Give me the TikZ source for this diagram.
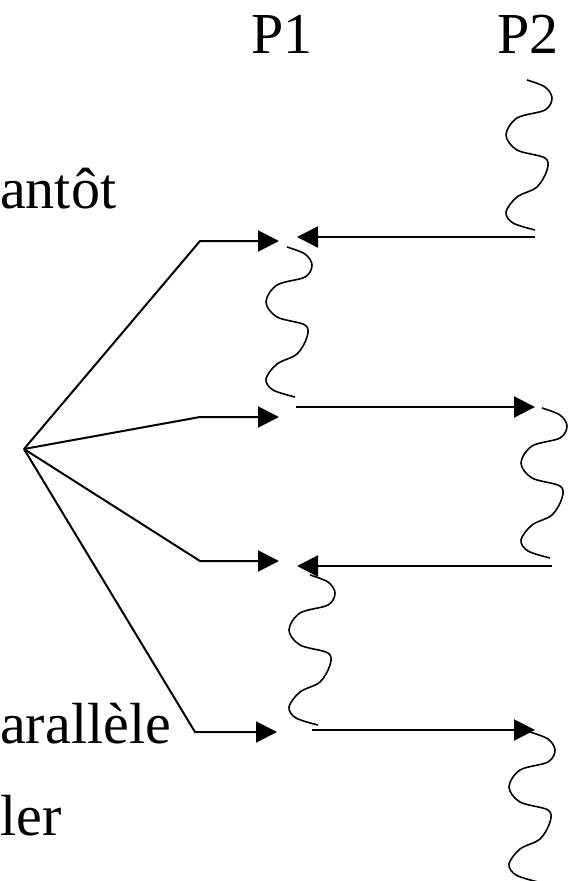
\documentclass[tikz,border=0pt]{standalone}
\usepackage{fontspec}
\setmainfont{Liberation Serif}
\usetikzlibrary{arrows.meta}
\begin{document}
\begin{tikzpicture}[x=1pt,y=-1pt,
  lbl/.style={inner sep=0pt,font=\fontsize{58}{70}\selectfont},
  waveline/.style={line width=1.6pt},
  msg/.style={line width=2.2pt,-{Triangle[length=21pt,width=21pt]}},
  fan/.style={line width=2pt,line join=miter,-{Triangle[length=21pt,width=21pt]}},
  wave/.pic={\draw[waveline] plot[smooth,tension=.55] coordinates
     {(0,0) (18,7) (25,18) (18,30) (-10,38) (-21,55) (-10,70) (18,78)
      (20,90) (10,107) (-10,117) (-21,132) (-14,143) (8,150)};}]
\useasboundingbox (0,0) rectangle (568,881);
\clip (0,0) rectangle (568,881);

% process names
\node[lbl,anchor=base] (p1) at (282,53) {P1};
\node[lbl,anchor=base] (p2) at (528,53) {P2};

% side texts
\node[lbl,anchor=base west] (t1) at (0,208) {antôt};
\node[lbl,anchor=base west] (t2) at (0,743) {arallèle};
\node[lbl,anchor=base west] (t3) at (0,835) {ler};

% execution segments
\pic at (527,80) {wave};
\pic at (287,247) {wave};
\pic at (542,408) {wave};
\pic at (310,575) {wave};
\pic at (530,732) {wave};

% message end points
\coordinate (m1s) at (535,237); \coordinate (m1e) at (297,237);
\coordinate (m2s) at (296,407); \coordinate (m2e) at (535,407);
\coordinate (m3s) at (552,566); \coordinate (m3e) at (297,566);
\coordinate (m4s) at (312,730); \coordinate (m4e) at (535,730);

\draw[msg] (m1s) -- (m1e);
\draw[msg] (m2s) -- (m2e);
\draw[msg] (m3s) -- (m3e);
\draw[msg] (m4s) -- (m4e);

% fan of points
\coordinate (apex) at (24,449);
\coordinate (k1) at (200,241); \coordinate (a1) at (279,241);
\coordinate (k2) at (200,417); \coordinate (a2) at (279,417);
\coordinate (k3) at (200,561); \coordinate (a3) at (279,561);
\coordinate (k4) at (195,732); \coordinate (a4) at (277,732);

\draw[fan] (apex) -- (k1) -- (a1);
\draw[fan] (apex) -- (k2) -- (a2);
\draw[fan] (apex) -- (k3) -- (a3);
\draw[fan] (apex) -- (k4) -- (a4);
\end{tikzpicture}
\end{document}
